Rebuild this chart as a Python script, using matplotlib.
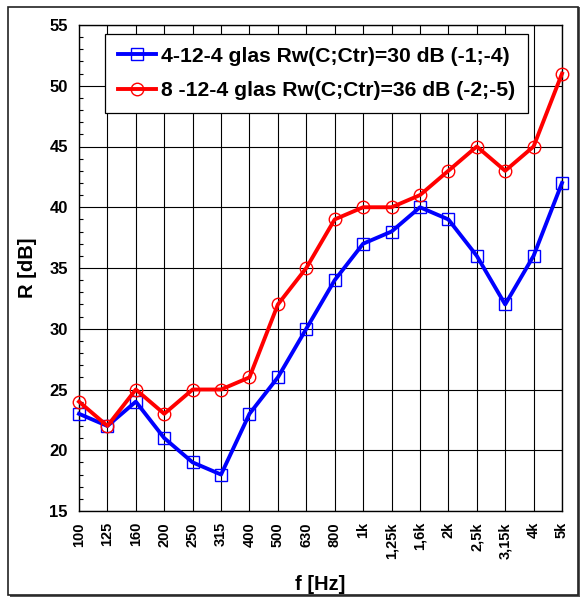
import matplotlib
matplotlib.use("Agg")
import matplotlib.pyplot as plt
from matplotlib.patches import Rectangle
from matplotlib.ticker import MultipleLocator

plt.rcParams["font.family"] = ["Liberation Sans", "DejaVu Sans"]
plt.rcParams["font.weight"] = "bold"

freqs = ["100", "125", "160", "200", "250", "315", "400", "500", "630", "800",
         "1k", "1,25k", "1,6k", "2k", "2,5k", "3,15k", "4k", "5k"]
r_4124 = [23, 22, 24, 21, 19, 18, 23, 26, 30, 34, 37, 38, 40, 39, 36, 32, 36, 42]
r_8124 = [24, 22, 25, 23, 25, 25, 26, 32, 35, 39, 40, 40, 41, 43, 45, 43, 45, 51]
labels = ["4-12-4 glas Rw(C;Ctr)=30 dB (-1;-4)",
          "8 -12-4 glas Rw(C;Ctr)=36 dB (-2;-5)"]

W, H = 582, 604
fig = plt.figure(figsize=(W / 100, H / 100), dpi=100)
ax = fig.add_axes([79 / W, 1 - 511 / H, (562 - 79) / W, (511 - 25) / H])

# frame round the whole chart, with a small shadow
fig.patches.append(Rectangle((10 / W, 1 - 597 / H), 570 / W, 590 / H,
                             transform=fig.transFigure, facecolor="#555555",
                             edgecolor="none", zorder=-2))
fig.patches.append(Rectangle((8 / W, 1 - 595 / H), 570 / W, 588 / H,
                             transform=fig.transFigure, facecolor="white",
                             edgecolor="#222222", lw=1.2, zorder=-1))

x = range(len(freqs))
ax.plot(x, r_4124, "-s", color="#0000ff", lw=2.8, ms=9, mfc="none",
        mec="#0000ff", mew=1.0, label=labels[0], zorder=3, clip_on=False)
ax.plot(x, r_8124, "-o", color="#ff0000", lw=2.8, ms=9, mfc="none",
        mec="#ff0000", mew=1.0, label=labels[1], zorder=4, clip_on=False)

ax.set_xlim(0, len(freqs) - 1)
ax.set_ylim(15, 55)
ax.set_xticks(list(x), freqs, rotation=90, fontsize=10.5, fontweight="bold")
ax.yaxis.set_major_locator(MultipleLocator(5))
ax.yaxis.set_minor_locator(MultipleLocator(1))
ax.tick_params(axis="y", which="major", direction="in", length=0,
               labelsize=12, pad=8)
ax.tick_params(axis="y", which="minor", direction="in", length=3, width=0.8)
ax.tick_params(axis="x", length=0, pad=8)
for lab in ax.get_yticklabels():
    lab.set_fontweight("bold")

ax.grid(True, which="major", color="black", lw=0.8)
for s in ax.spines.values():
    s.set_linewidth(1.0)
    s.set_color("black")

ax.set_xlabel("f [Hz]", fontsize=14.5, fontweight="bold", labelpad=12)
ax.set_ylabel("R [dB]", fontsize=14.5, fontweight="bold", labelpad=9)

leg = ax.legend(loc="upper left", bbox_to_anchor=(26 / 483, 1 - 9 / 486),
                prop={"weight": "bold", "size": 15.2},
                fancybox=False, framealpha=1, edgecolor="black",
                borderpad=0.6, labelspacing=0.75, handlelength=1.8,
                handletextpad=0.25, borderaxespad=0)
leg.get_frame().set_linewidth(0.9)

fig.savefig("out.png", dpi=100)
